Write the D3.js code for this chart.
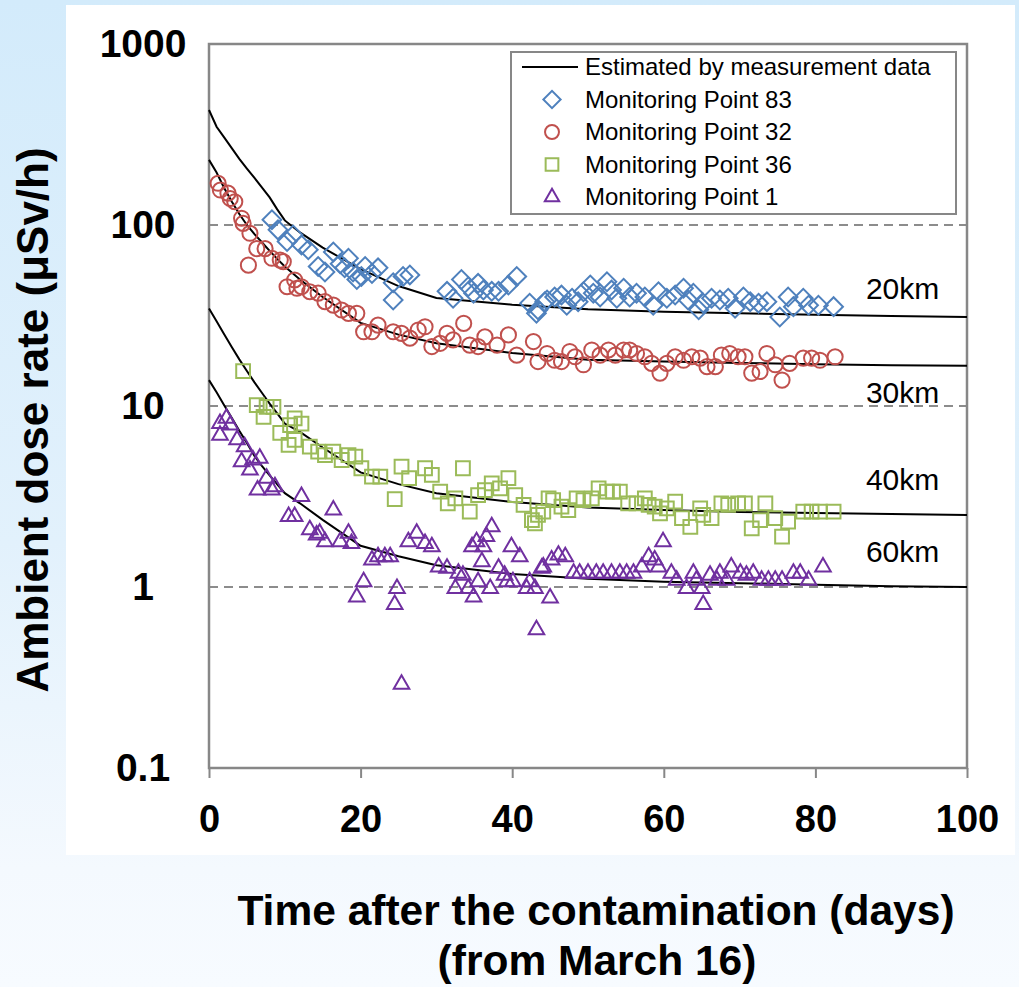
<!DOCTYPE html>
<html>
<head>
<meta charset="utf-8">
<script src="https://cdn.jsdelivr.net/npm/d3@7"></script>
<style>
  html, body { margin: 0; padding: 0; }
  body {
    width: 1019px; height: 987px; overflow: hidden;
    background: linear-gradient(to bottom, #d3ebfb 0%, #e2f1fc 55%, #f4f9fe 88%, #f7fbff 100%);
  }
  svg text { font-family: "Liberation Sans", Arial, sans-serif; }
</style>
</head>
<body>
<div id="chart"></div>
<script>
// Données (jours après la contamination, débit en µSv/h)
const xTicks = [0, 20, 40, 60, 80, 100];
const yTicks = [0.1, 1, 10, 100, 1000];
const gridValues = [1, 10, 100];

// Courbes estimées (mêmes jours pour les 4 courbes)
const estDays = [0, 1, 2, 3, 4, 5, 6, 7, 8, 9, 10, 12, 15, 20, 25, 30, 40, 50, 60, 70, 80, 90, 100];
const est20km = [432, 349, 305, 266, 232, 205, 182, 161, 142, 122, 106, 91, 75, 57, 46, 39.5, 36.3, 34.2, 33.2, 32.5, 31.9, 31.4, 31];
const est30km = [229, 195, 160, 135, 115, 100, 89, 80, 72, 65, 59, 50, 40, 28.8, 24.8, 22.2, 19.6, 18, 17.6, 17.3, 17, 16.8, 16.7];
const est40km = [34.6, 29.4, 24.9, 21.2, 18.1, 15.6, 13.5, 11.8, 10.3, 9.1, 8.0, 7.2, 5.9, 4.3, 3.7, 3.3, 2.95, 2.75, 2.66, 2.6, 2.56, 2.53, 2.5];
const est60km = [13.9, 11.9, 10.1, 8.6, 7.3, 6.25, 5.3, 4.65, 4.14, 3.69, 3.3, 2.9, 2.35, 1.69, 1.48, 1.32, 1.18, 1.11, 1.07, 1.05, 1.03, 1.01, 1.0];

const kmLabels = ["20km", "30km", "40km", "60km"];
const kmLabelValues = [39, 10.4, 3.43, 1.37];
const kmLabelDay = 91.5;

// Points de mesure [jour, valeur]
const mp83 = [[8.3,107],[9.1,94],[10.3,81],[11.1,88],[12.2,77.5],[13.1,73],[14.4,59],[15.3,55],[16.4,71],[17.3,61],[17.9,58],[18.4,65.5],[19.0,55],[19.5,50],[20.1,52],[20.6,59],[21.5,54],[22.3,58],[24.3,48],[24.3,38.5],[25.6,52],[26.5,53],[31.4,43],[32.2,39.4],[33.3,50],[34.2,45.6],[34.9,42],[35.5,47.6],[36.2,43.7],[37.3,43],[38.2,43],[39.5,46.6],[40.6,52],[42.3,37],[43.2,32.5],[43.4,34],[44.3,37.7],[44.6,38.5],[45.6,40],[46.5,41],[47.2,36],[47.9,39.4],[48.7,37.7],[49.4,42.8],[50.3,46.6],[50.7,42],[51.6,40],[52.5,48.6],[53.1,43.7],[53.8,39.4],[54.7,44.7],[55.5,40],[56.4,42],[57.5,40],[58.6,36],[59.3,42.8],[60.4,39.4],[61.5,41],[62.6,44.7],[63.2,38.5],[63.9,42],[64.6,34],[65.2,37],[66.3,39.4],[67.4,38.5],[68.5,39.4],[69.4,34.7],[70.5,40],[71.4,37.7],[72.5,37],[73.6,37.7],[75.3,31],[76.4,40],[77.1,35.4],[78.4,39.4],[79.1,36],[80.4,36],[82.4,35.4]];

const mp32 = [[1.2,170],[1.5,156],[2.5,150],[2.8,140],[3.4,134.5],[4.3,109],[4.5,102],[5.2,60],[5.4,90],[6.3,74],[7.4,74],[8.3,65.5],[9.4,64],[9.8,62.7],[10.3,45.6],[11.3,49.7],[11.6,44.7],[12.2,45.6],[13.3,42.8],[14.4,42],[15.3,37.7],[16.4,36.1],[17.5,33.9],[18.4,32.5],[19.5,32.5],[20.4,25.7],[21.5,25.7],[22.3,28],[24.3,25.7],[25.4,25.2],[26.5,23.7],[27.6,26.3],[28.5,27.4],[29.4,21.3],[30.5,22.2],[31.4,25.2],[32.2,23.2],[33.6,28.6],[34.4,21.7],[35.5,21.3],[36.4,24.1],[38.0,21.7],[39.5,24.7],[40.6,19.1],[42.8,22.7],[43.4,17.6],[44.6,19.5],[45.6,17.9],[46.5,17.6],[47.6,20],[48.3,18.7],[49.4,16.9],[50.5,20.4],[51.6,19.1],[52.7,20.4],[53.6,19.1],[54.7,20.4],[55.5,20.4],[56.4,19.5],[57.5,18.7],[58.4,17.2],[59.5,15.2],[60.4,17.2],[61.5,18.7],[62.6,17.9],[63.7,18.7],[64.8,18.4],[65.7,16.5],[66.8,16.5],[67.6,19.1],[68.7,19.5],[69.8,18.7],[70.7,18.7],[71.6,15.2],[72.7,15.5],[73.6,19.5],[74.7,16.9],[75.6,13.9],[76.6,17.2],[78.4,18.4],[79.5,18.4],[80.6,17.9],[82.6,18.7]];

const mp36 = [[4.5,15.6],[6.3,10.1],[7.2,8.7],[7.6,9.9],[8.5,9.9],[9.4,7.1],[10.5,6.1],[10.7,7.85],[11.3,8.55],[11.3,6.5],[12.2,8.0],[13.3,5.96],[14.4,5.6],[15.3,5.36],[16.4,5.6],[17.5,5.03],[18.4,5.36],[19.3,5.25],[20.1,4.53],[21.5,4.07],[22.6,4.07],[24.5,3.06],[25.4,4.62],[26.4,4.0],[28.5,4.53],[29.4,4.16],[30.5,3.36],[31.5,2.9],[32.5,3.09],[33.5,4.53],[34.4,2.61],[35.5,3.22],[36.4,3.43],[37.3,3.74],[38.4,3.51],[39.5,3.99],[40.4,3.22],[41.5,2.84],[42.6,2.34],[43.0,2.25],[43.4,2.5],[44.1,2.61],[44.8,3.09],[45.4,3.02],[46.5,2.78],[47.4,2.66],[48.5,3.09],[49.4,3.02],[50.5,3.09],[51.4,3.51],[52.5,3.36],[53.3,3.36],[54.2,3.36],[55.3,2.9],[56.4,2.9],[57.5,3.09],[58.0,2.84],[58.8,2.78],[59.5,2.55],[60.4,2.72],[61.5,2.96],[62.4,2.4],[63.5,2.15],[64.8,2.72],[65.2,2.5],[66.3,2.4],[67.6,2.9],[68.5,2.84],[69.8,2.9],[70.7,2.9],[71.6,2.11],[72.7,2.34],[73.4,2.9],[74.7,2.4],[75.6,1.9],[76.4,2.3],[78.4,2.61],[79.5,2.61],[80.6,2.61],[82.4,2.61]];

const mp1 = [[1.45,8.0],[2.3,8.55],[1.45,6.9],[2.8,7.85],[3.7,6.5],[4.7,5.96],[4.3,4.92],[5.4,4.43],[5.8,5.03],[6.7,5.14],[7.6,3.99],[6.4,3.43],[8.3,3.43],[8.7,3.58],[10.5,2.45],[11.3,2.45],[12.2,3.16],[16.4,2.66],[13.3,2.07],[14.2,1.94],[14.6,1.98],[15.3,1.78],[17.3,1.78],[18.4,1.98],[18.8,1.74],[19.5,0.88],[20.4,1.07],[21.5,1.41],[22.3,1.47],[23.2,1.47],[23.9,1.47],[24.5,0.8],[24.8,0.98],[25.4,0.29],[26.3,1.78],[27.4,1.98],[28.5,1.74],[29.4,1.67],[30.3,1.29],[31.4,1.27],[32.5,0.98],[32.9,1.19],[33.5,1.16],[34.2,0.98],[34.7,1.67],[34.9,0.88],[35.3,1.78],[35.5,1.07],[36.0,1.38],[36.2,1.67],[36.6,1.9],[37.1,0.98],[37.3,2.15],[38.2,1.27],[39.0,1.16],[39.3,1.07],[39.9,1.67],[40.1,1.07],[41.0,1.47],[41.9,0.98],[42.3,1.07],[43.0,0.98],[43.2,0.58],[43.9,1.27],[44.1,1.29],[45.0,0.87],[45.2,1.41],[46.1,1.5],[47.0,1.47],[48.1,1.19],[48.9,1.19],[50.0,1.19],[51.1,1.19],[52.0,1.19],[53.1,1.19],[54.2,1.19],[55.1,1.19],[56.0,1.19],[57.1,1.29],[58.0,1.47],[58.8,1.41],[59.3,1.29],[59.9,1.78],[61.0,1.19],[61.7,1.09],[63.0,0.98],[63.9,1.19],[64.3,1.09],[65.0,0.98],[65.2,0.80],[66.1,1.16],[67.0,1.09],[67.4,1.19],[68.3,1.09],[68.9,1.29],[70.1,1.19],[70.9,1.16],[71.8,1.19],[72.9,1.09],[73.8,1.09],[74.7,1.09],[75.6,1.09],[77.1,1.19],[78.0,1.19],[79.1,1.09],[81.0,1.29]];

const legendLabels = ["Estimated by measurement data", "Monitoring Point 83", "Monitoring Point 32", "Monitoring Point 36", "Monitoring Point 1"];

// Styles des séries
const series = [
  { data: mp83, color: "#4f81bd", symbol: d3.symbolSquare, size: 175, rotate: 45 },
  { data: mp32, color: "#c0504d", symbol: d3.symbolCircle, size: 180, rotate: 0 },
  { data: mp36, color: "#9bbb59", symbol: d3.symbolSquare, size: 190, rotate: 0 },
  { data: mp1,  color: "#7030a0", symbol: d3.symbolTriangle, size: 105, rotate: 0 }
];

const W = 1019, H = 987;
const svg = d3.select("#chart").append("svg")
  .attr("width", W).attr("height", H);

// Panneau blanc
svg.append("rect")
  .attr("x", 66).attr("y", 5).attr("width", 949).attr("height", 850)
  .attr("fill", "#ffffff");

const x = d3.scaleLinear().domain([0, 100]).range([209, 967]);
const y = d3.scaleLog().domain([0.1, 1000]).range([768, 44]);

const axisColor = "#878787";

// Lignes de grille pointillées
svg.append("g").selectAll("line")
  .data(gridValues)
  .enter().append("line")
  .attr("x1", x(0)).attr("x2", x(100))
  .attr("y1", d => y(d)).attr("y2", d => y(d))
  .attr("stroke", "#8c8c8c").attr("stroke-width", 2)
  .attr("stroke-dasharray", "9,6");

// Axe X
svg.append("g")
  .attr("transform", `translate(0,${y(0.1)})`)
  .call(d3.axisBottom(x).tickValues(xTicks).tickSize(10).tickPadding(27))
  .call(g => g.select(".domain").remove())
  .call(g => g.selectAll(".tick line").attr("stroke", axisColor).attr("stroke-width", 2))
  .selectAll("text")
  .style("font-size", "38px")
  .style("font-weight", "bold")
  .style("fill", "#000");

// Axe Y
svg.append("g")
  .attr("transform", `translate(${x(0)},0)`)
  .call(d3.axisLeft(y).tickValues(yTicks).tickSize(0).tickFormat(d3.format("~g")))
  .call(g => g.select(".domain").remove())
  .selectAll("text")
  .attr("x", -66)
  .attr("text-anchor", "middle")
  .style("font-size", "39px")
  .style("font-weight", "bold")
  .style("fill", "#000");

// Cadre de la zone de tracé
svg.append("rect")
  .attr("x", x(0)).attr("y", y(1000))
  .attr("width", x(100) - x(0)).attr("height", y(0.1) - y(1000))
  .attr("fill", "none").attr("stroke", axisColor).attr("stroke-width", 2.5);

// Courbes estimées
const line = d3.line()
  .x(d => x(d[0]))
  .y(d => y(d[1]));

[est20km, est30km, est40km, est60km].forEach(vals => {
  svg.append("path")
    .datum(estDays.map((d, i) => [d, vals[i]]))
    .attr("d", line)
    .attr("fill", "none")
    .attr("stroke", "#000")
    .attr("stroke-width", 2);
});

// Points de mesure
series.forEach(s => {
  const sym = d3.symbol().type(s.symbol).size(s.size);
  svg.append("g").selectAll("path")
    .data(s.data)
    .enter().append("path")
    .attr("d", sym)
    .attr("transform", d => `translate(${x(d[0])},${y(d[1])}) rotate(${s.rotate})`)
    .attr("fill", "none")
    .attr("stroke", s.color)
    .attr("stroke-width", 2);
});

// Étiquettes des distances
svg.append("g").selectAll("text")
  .data(kmLabels)
  .enter().append("text")
  .attr("x", x(kmLabelDay))
  .attr("y", (d, i) => y(kmLabelValues[i]))
  .attr("text-anchor", "middle")
  .style("font-size", "30px")
  .style("fill", "#000")
  .text(d => d);

// Légende
const legend = svg.append("g").attr("transform", "translate(511,52)");
legend.append("rect")
  .attr("width", 445).attr("height", 162)
  .attr("fill", "#fff").attr("stroke", axisColor).attr("stroke-width", 2);

const rowY = i => 15 + i * 32.5;
legend.append("line")
  .attr("x1", 11).attr("x2", 67)
  .attr("y1", rowY(0)).attr("y2", rowY(0))
  .attr("stroke", "#000").attr("stroke-width", 2);

series.forEach((s, i) => {
  legend.append("path")
    .attr("d", d3.symbol().type(s.symbol).size(s.size * 0.85))
    .attr("transform", `translate(41,${rowY(i + 1)}) rotate(${s.rotate})`)
    .attr("fill", "none")
    .attr("stroke", s.color)
    .attr("stroke-width", 2);
});

legend.selectAll(".leg-label")
  .data(legendLabels)
  .enter().append("text")
  .attr("class", "leg-label")
  .attr("x", 74)
  .attr("y", (d, i) => rowY(i))
  .attr("dy", "0.35em")
  .style("font-size", "24px")
  .style("fill", "#000")
  .text(d => d);

// Titres des axes
svg.append("text")
  .attr("transform", "translate(48,420) rotate(-90)")
  .attr("text-anchor", "middle")
  .style("font-size", "44px")
  .style("font-weight", "bold")
  .style("fill", "#000")
  .text("Ambient dose rate (μSv/h)");

svg.append("text")
  .attr("x", 596).attr("y", 925)
  .attr("text-anchor", "middle")
  .style("font-size", "42.5px")
  .style("font-weight", "bold")
  .style("fill", "#000")
  .text("Time after the contamination (days)");

svg.append("text")
  .attr("x", 597).attr("y", 975)
  .attr("text-anchor", "middle")
  .style("font-size", "42.5px")
  .style("font-weight", "bold")
  .style("fill", "#000")
  .text("(from March 16)");
</script>
</body>
</html>
